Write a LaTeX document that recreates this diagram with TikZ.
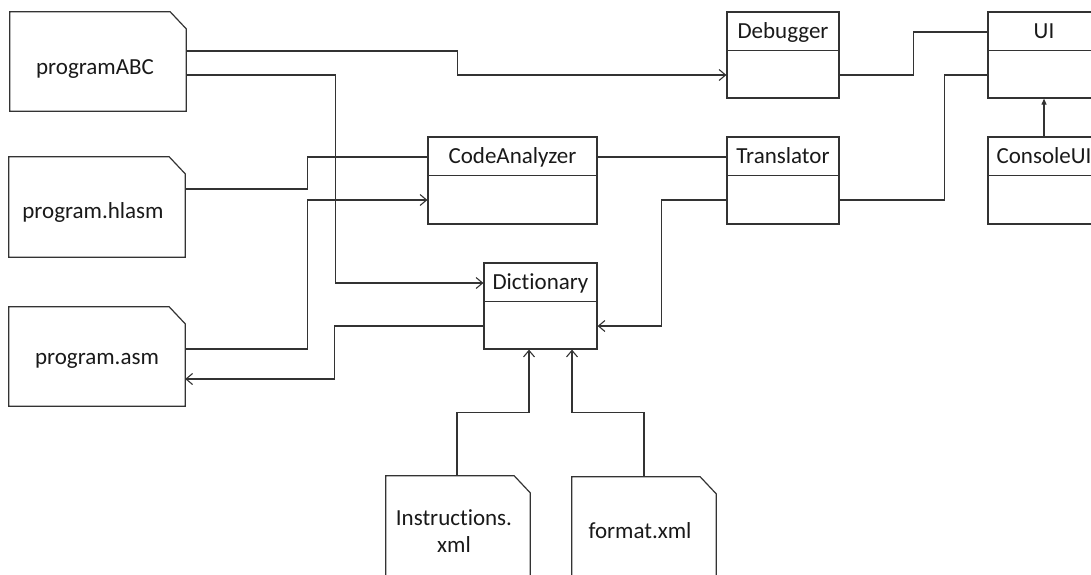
\documentclass[tikz,border=0pt]{standalone}
\usepackage{fontspec}
\setmainfont{Carlito}[Ligatures=NoCommon]
\usetikzlibrary{arrows.meta,calc}

% outline of a document symbol with a cut top-right corner
\newcommand\docshape[1]{%
  \draw[boxline] (#1.south west) -- (#1.north west)
    -- ([xshift=-16pt]#1.north east) -- ([yshift=-17pt]#1.north east)
    -- (#1.south east) -- cycle;}
% horizontal rule under the class name
\newcommand\classrule[1]{%
  \draw[boxline] ([yshift=-39pt]#1.north west) -- ([yshift=-39pt]#1.north east);}

\definecolor{ink}{HTML}{333333}

\begin{document}
\begin{tikzpicture}[x=1pt,y=-1pt,
  boxline/.style={draw=ink,line width=1.2pt},
  conn/.style={draw=ink,line width=1.1pt},
  dep/.style={conn,-{Straight Barb[length=6.5pt,width=11pt]}},
  inherit/.style={conn,-{Triangle[length=6pt,width=5pt]}},
  classbox/.style={boxline,rectangle,inner sep=0pt},
  docbox/.style={rectangle,inner sep=0pt},
  txt/.style={inner sep=0pt,font=\fontsize{23}{27}\selectfont,text=black!90}]
\path[use as bounding box,clip] (0,0) rectangle (1091,574);

% documents
\node[docbox,minimum width=176pt,minimum height=99pt]  (abc)   at (98,61.5) {};
\node[docbox,minimum width=176pt,minimum height=100pt] (hlasm) at (97,207) {};
\node[docbox,minimum width=176pt,minimum height=99pt]  (asm)   at (97,356.5) {};
\node[docbox,minimum width=144pt,minimum height=100pt] (instr) at (458,526) {};
\node[docbox,minimum width=144pt,minimum height=100pt] (fmt)   at (644,527) {};
\docshape{abc}\docshape{hlasm}\docshape{asm}\docshape{instr}\docshape{fmt}

\node[txt,anchor=base] (abc-t)   at ([xshift=-3pt,yshift=-12.5pt]abc.center)   {programABC};
\node[txt,anchor=base] (hlasm-t) at ([xshift=-4pt,yshift=-11pt]hlasm.center) {program.hlasm};
\node[txt,anchor=base] (asm-t)   at ([yshift=-7.5pt]asm.center)    {program.asm};
\node[txt,align=center] (instr-t) at ([xshift=-4pt,yshift=-5pt]instr.center) {Instructions.\\xml};
\node[txt,anchor=base] (fmt-t)   at ([xshift=-4pt,yshift=-11pt]fmt.center)   {format.xml};

% classes
\node[classbox,minimum width=112pt,minimum height=86pt] (dbg)   at (783,55) {};
\node[classbox,minimum width=112pt,minimum height=86pt] (ui)    at (1044,55) {};
\node[classbox,minimum width=112pt,minimum height=87pt] (trans) at (783,180.5) {};
\node[classbox,minimum width=112pt,minimum height=87pt] (cons)  at (1044,180.5) {};
\node[classbox,minimum width=169pt,minimum height=87pt] (code)  at (512.5,180.5) {};
\node[classbox,minimum width=113pt,minimum height=86pt] (dict)  at (540.5,306) {};
\classrule{dbg}\classrule{ui}\classrule{trans}\classrule{cons}\classrule{code}\classrule{dict}

\node[txt,anchor=base] (dbg-t)   at ([yshift=-27.5pt]dbg.north)   {Debugger};
\node[txt,anchor=base] (ui-t)    at ([yshift=-27.5pt]ui.north)    {UI};
\node[txt,anchor=base] (trans-t) at ([yshift=-27.5pt]trans.north) {Translator};
\node[txt,anchor=base] (cons-t)  at ([yshift=-27.5pt]cons.north)  {ConsoleUI};
\node[txt,anchor=base] (code-t)  at ([yshift=-27.5pt]code.north)  {CodeAnalyzer};
\node[txt,anchor=base] (dict-t)  at ([yshift=-27.5pt]dict.north)  {Dictionary};

% connectors
\draw[dep]  ([yshift=10.5pt]abc.east) -- ++(271,0) |- ([yshift=-20pt]dbg.west);
\draw[dep]  ([yshift=-13.5pt]abc.east) -- ++(149,0) |- ([yshift=23pt]dict.west);
\draw[conn] ([yshift=18pt]hlasm.east) -- ++(122,0) |- ([yshift=23.5pt]code.west);
\draw[dep]  ([yshift=7.5pt]asm.east) -- ++(122,0) |- ([yshift=-19.5pt]code.west);
\draw[dep]  ([yshift=-20pt]dict.west) -- ++(-149,0) |- ([yshift=-22.5pt]asm.east);
\draw[conn] ([yshift=23.5pt]code.east) -- ([yshift=23.5pt]trans.west);
\draw[dep]  ([yshift=-19.5pt]trans.west) -- ++(-65,0) |- ([yshift=-20pt]dict.east);
\draw[conn] ([yshift=-20pt]dbg.east) -- ++(74,0) |- ([yshift=23pt]ui.west);
\draw[conn] ([yshift=-19.5pt]trans.east) -- ++(105,0) |- ([yshift=-20pt]ui.west);
\draw[inherit] (cons.north) -- (ui.south);
\draw[dep]  ([xshift=-1pt]instr.north) -- ++(0,-63) -| ([xshift=-11.5pt]dict.south);
\draw[dep]  (fmt.north) -- ++(0,-64) -| ([xshift=31.5pt]dict.south);
\end{tikzpicture}
\end{document}
